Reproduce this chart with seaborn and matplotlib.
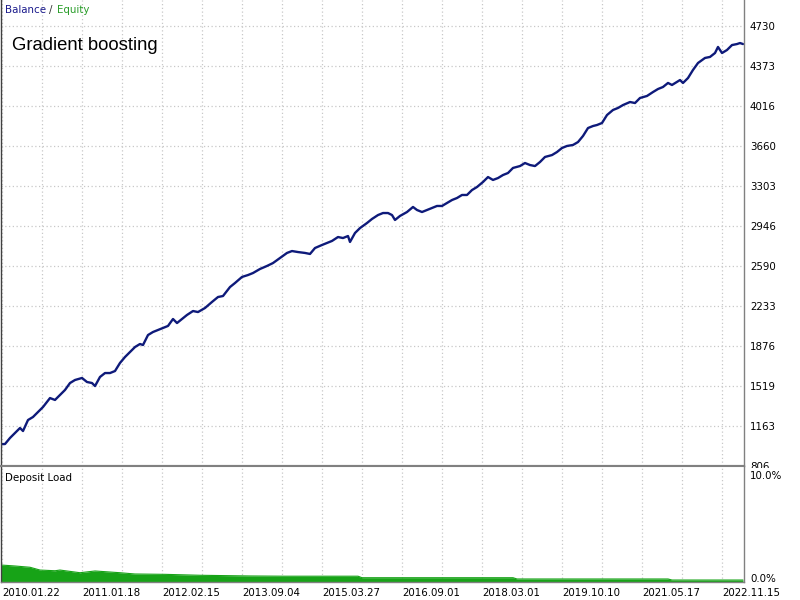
import numpy as np
import pandas as pd
import matplotlib
matplotlib.use("Agg")
import matplotlib.pyplot as plt
import matplotlib.transforms as mtransforms
from matplotlib.patches import Rectangle
import seaborn as sns

# ---------------- data ----------------
trade_idx = [0, 5, 10, 15, 20, 23, 28, 33, 38, 43, 50, 55, 60, 65, 70, 75, 82, 87, 92, 95,
             100, 105, 110, 115, 120, 125, 130, 135, 140, 143, 148, 153, 158, 163, 168, 173,
             177, 182, 187, 193, 198, 205, 212, 218, 223, 230, 235, 242, 248, 253, 260, 267,
             273, 280, 287, 292, 298, 305, 310, 315, 322, 327, 332, 338, 343, 348, 350, 355,
             360, 367, 372, 378, 383, 388, 392, 395, 400, 407, 413, 417, 422, 427, 432, 437,
             442, 447, 452, 457, 462, 467, 472, 477, 483, 488, 493, 498, 503, 508, 513, 520,
             525, 530, 535, 540, 545, 552, 557, 562, 567, 573, 578, 583, 588, 593, 597, 602,
             607, 613, 618, 623, 630, 635, 640, 647, 653, 658, 663, 668, 672, 677, 680, 683,
             688, 693, 698, 705, 710, 715, 718, 722, 727, 732, 737, 740, 743]
balance = [1000, 1002, 1056, 1100, 1145, 1118, 1216, 1243, 1288, 1332, 1412, 1395, 1439, 1484,
           1546, 1573, 1591, 1555, 1546, 1519, 1600, 1635, 1635, 1653, 1725, 1778, 1823, 1867,
           1894, 1885, 1974, 2001, 2019, 2037, 2055, 2117, 2081, 2117, 2153, 2188, 2179, 2215,
           2269, 2313, 2322, 2402, 2438, 2492, 2509, 2527, 2563, 2590, 2616, 2661, 2706, 2723,
           2714, 2706, 2697, 2750, 2777, 2795, 2813, 2848, 2839, 2857, 2804, 2884, 2928, 2973,
           3009, 3044, 3062, 3062, 3044, 3000, 3036, 3071, 3116, 3089, 3071, 3089, 3107, 3125,
           3125, 3151, 3178, 3196, 3223, 3223, 3267, 3294, 3339, 3383, 3357, 3374, 3401, 3419,
           3464, 3481, 3508, 3490, 3481, 3517, 3562, 3579, 3606, 3642, 3660, 3669, 3695, 3749,
           3820, 3838, 3847, 3865, 3936, 3981, 3999, 4025, 4052, 4043, 4088, 4106, 4141, 4168,
           4186, 4222, 4204, 4231, 4248, 4222, 4266, 4338, 4400, 4445, 4454, 4489, 4543, 4489,
           4516, 4560, 4569, 4578, 4569]

load_idx = [0, 15, 30, 40, 55, 60, 80, 95, 120, 135, 165, 200, 250, 285, 300, 358, 362,
            513, 517, 668, 672, 743]
load_pct = [1.47, 1.38, 1.27, 1.03, 0.97, 1.03, 0.80, 0.95, 0.80, 0.69, 0.66, 0.58, 0.52,
            0.50, 0.50, 0.50, 0.37, 0.37, 0.26, 0.26, 0.17, 0.17]

y_ticks = [806, 1163, 1519, 1876, 2233, 2590, 2946, 3303, 3660, 4016, 4373, 4730]
date_labels = ["2010.01.22", "2011.01.18", "2012.02.15", "2013.09.04", "2015.03.27",
               "2016.09.01", "2018.03.01", "2019.10.10", "2021.05.17", "2022.11.15"]
load_ticks = [0, 10]
load_tick_labels = ["0.0%", "10.0%"]

# ---------------- style ----------------
sns.set_theme(style="white")
plt.rcParams['font.family'] = ['DejaVu Sans']
FS = 7.4
NAVY = '#0e1a7a'
GREEN = '#17a317'
GRID = dict(color='#c8c8c8', linestyle=(0, (1, 2)), linewidth=0.9)

W, H = 800, 600
fig = plt.figure(figsize=(W / 100, H / 100), dpi=100)
fig.patch.set_facecolor('white')
X0, X1 = 1, 744
ax = fig.add_axes([X0 / W, (H - 466) / H, (X1 - X0) / W, 466 / H], zorder=0)
ax2 = fig.add_axes([X0 / W, (H - 582) / H, (X1 - X0) / W, (582 - 466) / H], zorder=2)

major_x = np.arange(2, 744, 80)
minor_x = np.arange(42, 744, 80)

# ---------------- balance panel ----------------
df = pd.DataFrame({'trade': trade_idx, 'balance': balance})
sns.lineplot(data=df, x='trade', y='balance', ax=ax, color=NAVY, linewidth=1.7)
ax.set_xlim(X0, X1)
ax.set_ylim(806, 806 + 466 * 8.918)
ax.set_xlabel('')
ax.set_ylabel('')
ax.set_xticks(major_x)
ax.set_xticks(minor_x, minor=True)
ax.set_yticks(y_ticks)
ax.set_yticklabels([str(v) for v in y_ticks])
ax.yaxis.tick_right()
ax.tick_params(axis='x', which='both', labelbottom=False, length=0)
ax.tick_params(axis='y', which='both', length=0, pad=4.3, labelsize=FS, labelcolor='black')
ax.grid(which='both', axis='x', **GRID)
ax.grid(which='major', axis='y', **GRID)
ax.spines['top'].set_visible(False)
ax.spines['left'].set_color('#404040')
ax.spines['left'].set_linewidth(1.0)
ax.spines['right'].set_color('#808080')
ax.spines['right'].set_linewidth(1.0)
ax.spines['bottom'].set_color('#808080')
ax.spines['bottom'].set_linewidth(1.5)
ax.set_facecolor('white')

# ---------------- deposit load panel ----------------
sns.lineplot(x=load_idx, y=load_pct, ax=ax2, color=GREEN, linewidth=0.8)
ax2.fill_between(load_idx, load_pct, 0, color=GREEN, linewidth=0)
ax2.set_xlim(X0, X1)
ax2.set_ylim(0, 10)
ax2.set_xlabel('')
ax2.set_ylabel('')
ax2.set_xticks(major_x)
ax2.set_xticks(minor_x, minor=True)
ax2.set_xticklabels(date_labels, ha='left')
ax2.set_yticks(load_ticks)
ax2.set_yticklabels(load_tick_labels)
ax2.yaxis.tick_right()
ax2.tick_params(axis='x', which='both', length=0, pad=4.2, labelsize=FS, labelcolor='black')
ax2.tick_params(axis='y', which='both', length=0, pad=4.3, labelsize=FS, labelcolor='black')
ax2.grid(which='both', axis='x', **GRID)
ax2.grid(False, axis='y')
for side, col, lw in [('top', '#808080', 1.5), ('left', '#404040', 1.0),
                      ('right', '#808080', 1.0), ('bottom', '#808080', 1.0)]:
    ax2.spines[side].set_color(col)
    ax2.spines[side].set_linewidth(lw)
ax2.set_facecolor('white')
lbls = ax2.get_yticklabels()
lbls[0].set_va('bottom')
lbls[0].set_transform(lbls[0].get_transform() +
                      mtransforms.ScaledTranslation(0, -2 / 100, fig.dpi_scale_trans))
lbls[1].set_va('top')
lbls[1].set_transform(lbls[1].get_transform() +
                      mtransforms.ScaledTranslation(0, -5 / 100, fig.dpi_scale_trans))

# white band that cuts the lowest balance label, as the lower pane does
fig.add_artist(Rectangle((746 / W, (H - 474) / H), (W - 746) / W, 6.5 / H,
                         transform=fig.transFigure, facecolor='white', edgecolor='none',
                         zorder=1))

# ---------------- texts ----------------
fig.text(5 / W, 1 - 10 / H, 'Balance', color='#1a1a8c', fontsize=FS, va='center', ha='left')
fig.text(49 / W, 1 - 10 / H, '/', color='#333333', fontsize=FS, va='center', ha='left')
fig.text(57 / W, 1 - 10 / H, 'Equity', color='#2a9d2a', fontsize=FS, va='center', ha='left')
fig.text(12 / W, 1 - 45 / H, 'Gradient boosting', color='black', fontsize=13.3,
         family=['Liberation Sans', 'DejaVu Sans'], va='center', ha='left')
fig.text(5 / W, 1 - 478 / H, 'Deposit Load', color='black', fontsize=FS, va='center', ha='left')

fig.savefig('out.png', dpi=100, facecolor='white')
